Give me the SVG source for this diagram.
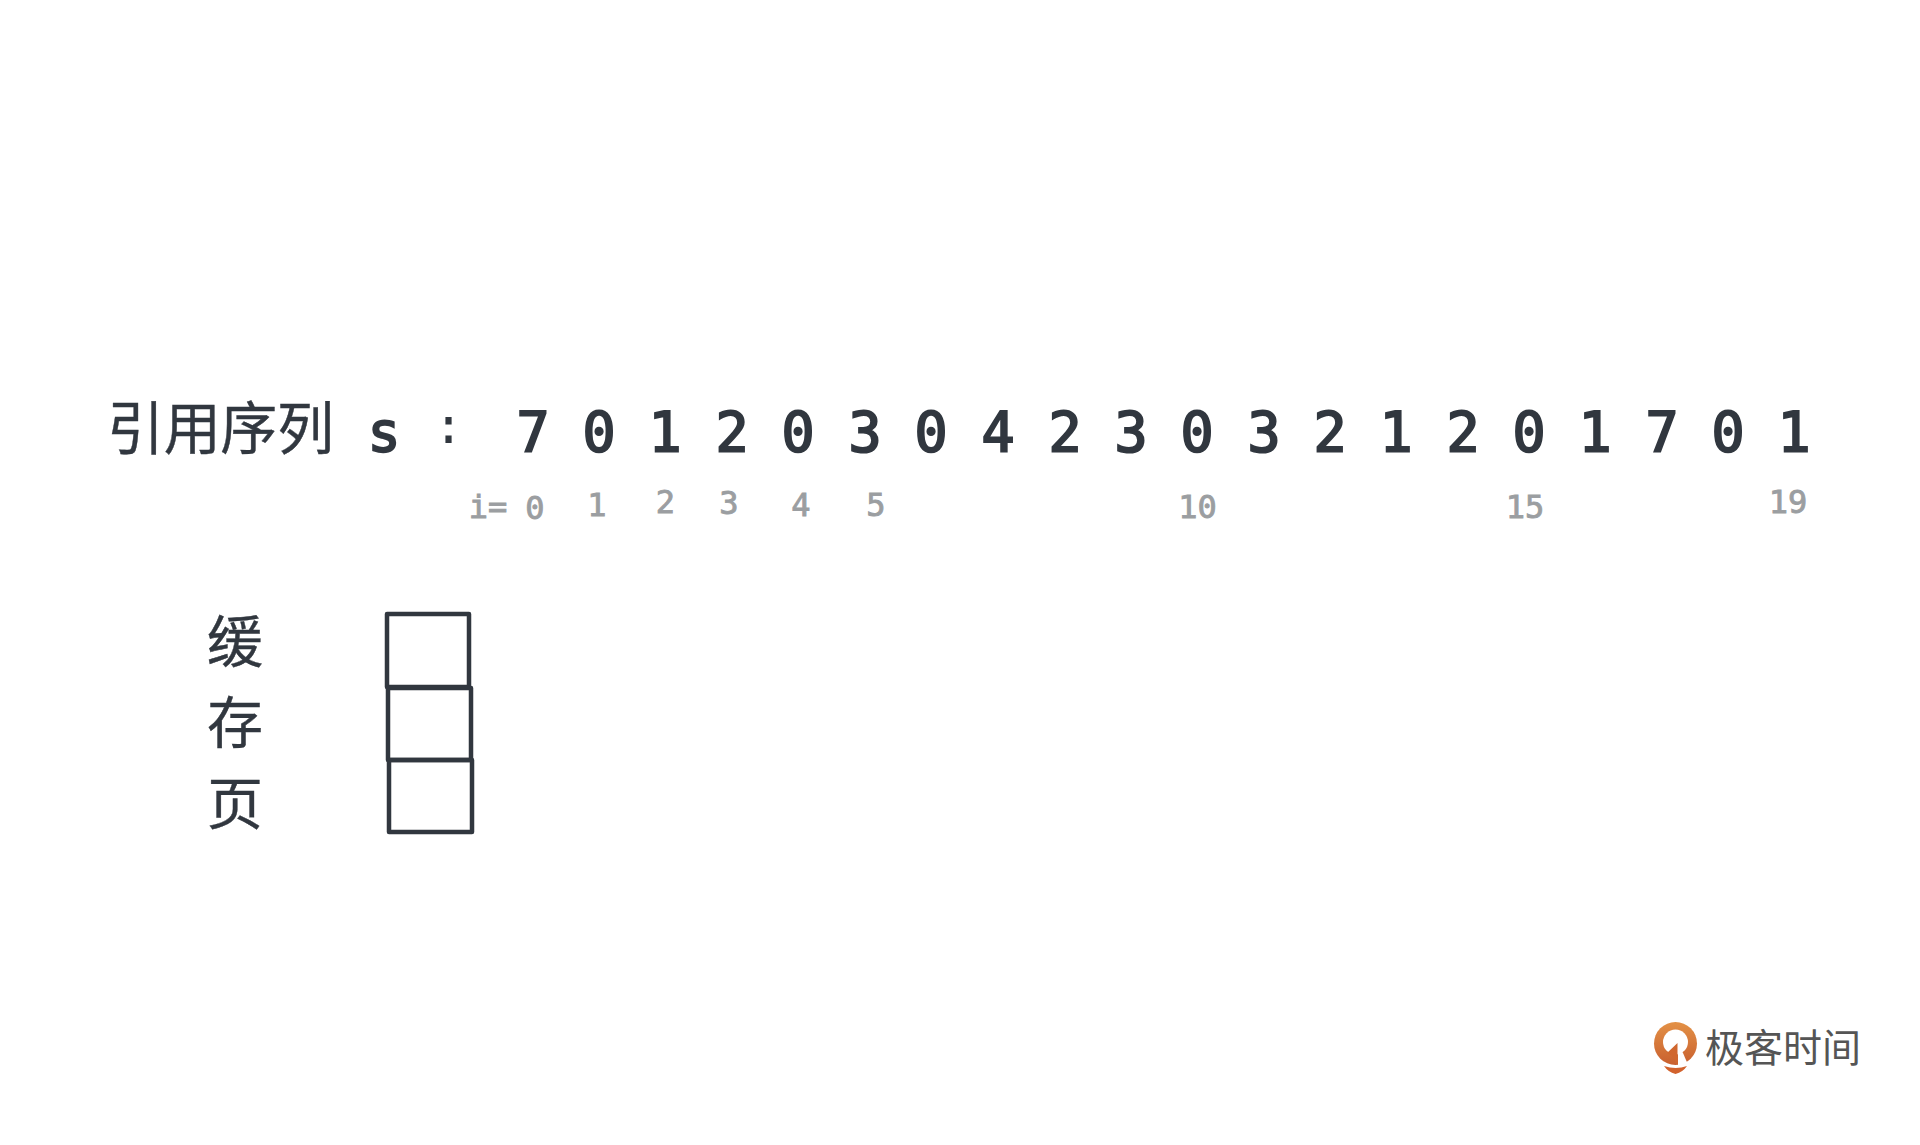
<svg xmlns="http://www.w3.org/2000/svg" width="1920" height="1145" viewBox="0 0 1920 1145">
<style>
.cjk{font-family:"Noto Sans CJK SC","Noto Sans",sans-serif;fill:#31373f;stroke:#31373f;stroke-width:.4}
.seq{font-family:"DejaVu Sans Mono",monospace;font-size:55px;fill:#31373f;stroke:#31373f;stroke-width:2;text-anchor:middle}
.idx{font-family:"DejaVu Sans Mono",monospace;font-size:32px;fill:#9b9ea1;stroke:#9b9ea1;stroke-width:.9;text-anchor:middle}
.box{fill:none;stroke:#31373f;stroke-width:4.500;stroke-linejoin:round}
</style>
<defs><linearGradient id="g" x1="0" y1="0" x2="0" y2="1"><stop offset="0" stop-color="#e39146"/><stop offset="1" stop-color="#c9602f"/></linearGradient></defs>
<rect width="1920" height="1145" fill="#ffffff"/>
<g id="title">
<text class="cjk" x="107" y="449" font-size="57" textLength="227">引用序列</text>
<text class="seq" x="384" y="451">s</text>
<text class="seq" x="448.5" y="443" style="stroke-width:0;font-size:50px">:</text>
</g>
<g id="sequence">
<text class="seq" x="533" y="451">7</text><text class="seq" x="599" y="451">0</text><text class="seq" x="665" y="451">1</text><text class="seq" x="732" y="451">2</text><text class="seq" x="798" y="451">0</text><text class="seq" x="865" y="451">3</text><text class="seq" x="931" y="451">0</text><text class="seq" x="998" y="451">4</text><text class="seq" x="1065" y="451">2</text><text class="seq" x="1131" y="451">3</text><text class="seq" x="1197" y="451">0</text><text class="seq" x="1264" y="451">3</text><text class="seq" x="1330" y="451">2</text><text class="seq" x="1396" y="451">1</text><text class="seq" x="1463" y="451">2</text><text class="seq" x="1529" y="451">0</text><text class="seq" x="1595" y="451">1</text><text class="seq" x="1662" y="451">7</text><text class="seq" x="1728" y="451">0</text><text class="seq" x="1794" y="451">1</text>
</g>
<g id="indices">
<text class="idx" x="488" y="518">i=</text><text class="idx" x="535" y="519">0</text><text class="idx" x="597" y="516">1</text><text class="idx" x="665.5" y="513">2</text><text class="idx" x="729" y="514">3</text><text class="idx" x="801" y="516">4</text><text class="idx" x="876" y="516">5</text><text class="idx" x="1197.5" y="518">10</text><text class="idx" x="1525" y="518">15</text><text class="idx" x="1788" y="513">19</text>
</g>
<g id="cache-label">
<text class="cjk" x="235" y="662" font-size="56" text-anchor="middle">缓</text>
<text class="cjk" x="235" y="743" font-size="56" text-anchor="middle">存</text>
<text class="cjk" x="235" y="824" font-size="56" text-anchor="middle">页</text>
</g>
<g id="cache-slot-1"><rect class="box" x="387" y="614" width="82" height="73"/></g>
<g id="cache-slot-2"><rect class="box" x="388" y="688" width="83" height="72"/></g>
<g id="cache-slot-3"><rect class="box" x="389" y="760" width="83" height="72"/></g>
<g id="logo">
<circle cx="1675.500" cy="1043.500" r="21.500" fill="url(#g)"/>
<circle cx="1675.500" cy="1042" r="12.500" fill="#ffffff"/>
<path fill="#ffffff" d="M1678 1046L1683 1053L1689 1067H1678Z"/>
<path fill="#d0672f" d="M1677.500 1043L1667 1053L1672 1056L1677.500 1065Z"/>
<path fill="#d2622d" d="M1664 1066q12 4 23 0q-4 6-11.500 8q-7.500-2-11.500-8z"/>
<text x="1705" y="1062" font-family="Noto Sans CJK SC,sans-serif" font-size="39" font-weight="400" fill="#555555">极客时间</text>
</g>
</svg>
